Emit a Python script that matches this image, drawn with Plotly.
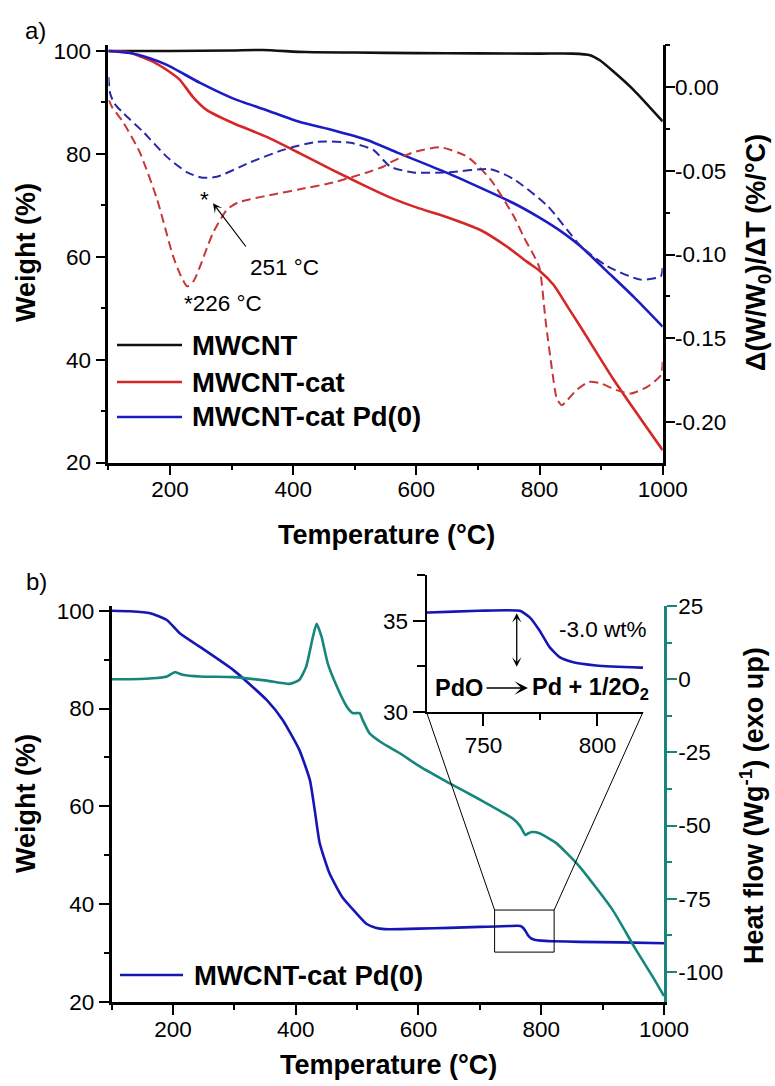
import plotly.graph_objects as go

W, H = 775, 1086
FONT = "Liberation Sans, Arial, sans-serif"

# ---------------- panel a: TGA (left axis) and DTG (right axis) ----------------
t_mwcnt = [100, 200, 300, 350, 420, 500, 600, 700, 800, 854, 882, 898, 920, 953, 1000]
w_mwcnt = [100, 100, 100.1, 100.2, 99.8, 99.7, 99.6, 99.55, 99.5, 99.5, 99.2, 98.2, 96.0, 92.4, 86.3]

t_cat = [100, 130, 151, 173, 195, 216, 237, 260, 302, 357, 411, 465, 520, 560, 600, 650,
         704, 748, 780, 800, 823, 845, 867, 921, 1000]
w_cat = [100, 99.8, 99.0, 97.9, 96.3, 94.4, 91.1, 88.5, 86.0, 83.3, 80.1, 76.8, 73.6,
         71.4, 69.6, 67.7, 65.2, 61.9, 59.0, 57.3, 54.5, 50.4, 46.3, 36.0, 22.4]

t_pd = [100, 135, 167, 195, 249, 302, 357, 411, 465, 520, 570, 650, 758, 800, 839, 867,
        910, 953, 1000]
w_pd = [100, 99.6, 98.6, 97.3, 93.8, 90.8, 88.5, 86.2, 84.6, 82.7, 80.2, 76.3, 70.4,
        67.6, 64.6, 62.0, 57.1, 52.2, 46.4]

td_cat = [101, 106, 124, 151, 179, 205, 218, 228, 238, 249, 260, 270, 282, 293, 310, 330,
          370, 411, 465, 520, 546, 558, 595, 639, 683, 720, 758, 775, 790, 800, 810, 820,
          828, 836, 845, 860, 880, 900, 925, 948, 975, 997, 1000]
d_cat = [-0.008, -0.012, -0.021, -0.039, -0.067, -0.101, -0.113, -0.119, -0.116, -0.107,
         -0.096, -0.087, -0.079, -0.073, -0.069, -0.067, -0.064, -0.061, -0.057, -0.051,
         -0.0476, -0.045, -0.039, -0.036, -0.0417, -0.055, -0.077, -0.090, -0.100, -0.108,
         -0.140, -0.168, -0.186, -0.190, -0.187, -0.181, -0.176, -0.177, -0.181, -0.183,
         -0.179, -0.172, -0.164]

td_pd = [100, 103, 110, 124, 157, 195, 228, 251, 276, 330, 384, 439, 493, 530, 558, 595,
         650, 720, 758, 813, 867, 910, 964, 997, 1000]
d_pd = [0.006, -0.004, -0.010, -0.0155, -0.027, -0.0417, -0.051, -0.054, -0.0536, -0.045,
        -0.0375, -0.0327, -0.0333, -0.0375, -0.0476, -0.051, -0.051, -0.049, -0.055,
        -0.071, -0.095, -0.107, -0.115, -0.113, -0.106]

# ---------------- panel b: TGA (left axis) and DSC heat flow (right axis) ----------------
tb = [100, 130, 163, 190, 211, 244, 298, 353, 379, 406, 423, 431, 439, 455, 476, 499, 515,
      530, 545, 570, 600, 650, 700, 726, 748, 766, 770.3, 774.6, 779, 783.4, 789, 799.4,
      819, 862, 930, 1000]
wb = [100, 99.9, 99.5, 98.1, 95.4, 92.6, 87.9, 81.7, 77.6, 71.5, 65.4, 59.2, 52.5, 46.3,
      41.4, 38.1, 36.0, 35.2, 34.9, 34.9, 35.0, 35.15, 35.35, 35.45, 35.54, 35.54, 35.18,
      34.46, 33.55, 33.0, 32.74, 32.55, 32.43, 32.3, 32.2, 32.0]

th = [100, 132, 174, 190, 203, 216, 244, 298, 353, 390, 406, 417, 428, 434, 442, 452, 467,
      483, 493, 504, 509, 520, 541, 569, 602, 650, 699, 753, 765, 769, 774, 779, 785, 797,
      824, 862, 916, 954, 981, 1000]
hf = [0, 0, 0.4, 0.9, 2.4, 1.5, 0.9, 0.7, -0.5, -1.6, -0.2, 4.3, 14.5, 18.9, 14.5, 5.5,
      -2.5, -9.3, -11.6, -11.6, -13.9, -18.4, -21.8, -25.2, -29.8, -35.5, -41.0, -47.5,
      -50.0, -51.4, -53.2, -52.6, -52.2, -52.6, -55.9, -63.9, -78.7, -92.3, -101.4, -108.2]

names_a = ["MWCNT", "MWCNT-cat", "MWCNT-cat Pd(0)"]
name_b = "MWCNT-cat Pd(0)"

BLACK = "#111111"
RED = "rgb(214,38,38)"
RED_D = "rgb(200,55,55)"
BLUE = "rgb(28,28,196)"
BLUE_D = "rgb(40,40,170)"
BLUE_B = "rgb(22,22,180)"
TEAL = "rgb(22,134,124)"

fig = go.Figure()

# panel a
for t, w, c in [(t_mwcnt, w_mwcnt, BLACK), (t_cat, w_cat, RED), (t_pd, w_pd, BLUE)]:
    fig.add_trace(go.Scatter(x=t, y=w, mode="lines", line=dict(color=c, width=2.6, shape="spline", smoothing=0.6),
                             xaxis="x", yaxis="y", showlegend=False))
for t, d, c in [(td_cat, d_cat, RED_D), (td_pd, d_pd, BLUE_D)]:
    fig.add_trace(go.Scatter(x=t, y=d, mode="lines",
                             line=dict(color=c, width=2, dash="9px,5px", shape="spline", smoothing=0.6),
                             xaxis="x", yaxis="y2", showlegend=False))

# panel b
fig.add_trace(go.Scatter(x=th, y=hf, mode="lines", line=dict(color=TEAL, width=2.6, shape="spline", smoothing=0.5),
                         xaxis="x2", yaxis="y4", showlegend=False))
fig.add_trace(go.Scatter(x=tb, y=wb, mode="lines", line=dict(color=BLUE_B, width=2.6, shape="spline", smoothing=0.5),
                         xaxis="x2", yaxis="y3", showlegend=False))
# inset: zoom on the PdO decomposition step
fig.add_trace(go.Scatter(x=tb, y=wb, mode="lines", line=dict(color=BLUE_B, width=2.6, shape="spline", smoothing=0.5),
                         xaxis="x3", yaxis="y5", showlegend=False))

TICKF = dict(family=FONT, size=22.5, color="black")


def ax_common(**kw):
    d = dict(showline=True, linewidth=2.5, linecolor="black", ticks="outside", ticklen=10,
             tickwidth=2, tickcolor="black", tickfont=TICKF, zeroline=False, showgrid=False,
             mirror=False, automargin=False)
    d.update(kw)
    return d


def minor(vals, color="black", ln=5):
    return dict(tickmode="array", tickvals=vals, ticks="outside", ticklen=ln, tickwidth=2,
                tickcolor=color, showgrid=False)


xa_dom = [108.4 / W, 662.7 / W]
xb_dom = [111.6 / W, 664.0 / W]
ya_dom = [1 - 462.5 / H, 1 - 45 / H]
yb_dom = [1 - 1002 / H, 1 - 606 / H]
xi_dom = [426.5 / W, 643 / W]
yi_dom = [1 - 712 / H, 1 - 575 / H]

xa_rng = [100, 1000]
xb_rng = [100, 1000]
ya_rng = [20, 101.17]
ya2_rng = [-0.2242, 0.0251]
yb_rng = [20, 100.96]
yb2_rng = [-110.25, 25]
xi_rng = [725, 820]
yi_rng = [30, 37.5]

temp_ticks = [200, 400, 600, 800, 1000]
temp_minor = [100, 300, 500, 700, 900]
wt_ticks = [20, 40, 60, 80, 100]
wt_minor = [30, 50, 70, 90]
dtg_ticks = [0.0, -0.05, -0.10, -0.15, -0.20]
dtg_text = ["0.00", "-0.05", "-0.10", "-0.15", "-0.20"]
dtg_minor = [0.025, -0.025, -0.075, -0.125, -0.175]
hf_ticks = [25, 0, -25, -50, -75, -100]
hf_text = ["25", "0", "-25", "-50", "-75", "-100"]
hf_minor = [12.5, -12.5, -37.5, -62.5, -87.5]

fig.update_layout(
    template="none",
    width=W, height=H, margin=dict(l=0, r=0, t=0, b=0, pad=0, autoexpand=False),
    paper_bgcolor="white", plot_bgcolor="rgba(0,0,0,0)", showlegend=False,
    font=dict(family=FONT, color="black"),
    xaxis=ax_common(domain=xa_dom, range=xa_rng, anchor="y", tickmode="array", tickvals=temp_ticks,
                    minor=minor(temp_minor), ticklabelstandoff=-5),
    yaxis=ax_common(domain=ya_dom, range=ya_rng, anchor="x", tickmode="array", tickvals=wt_ticks,
                    minor=minor(wt_minor)),
    yaxis2=ax_common(overlaying="y", side="right", anchor="x", range=ya2_rng, tickmode="array",
                     tickvals=dtg_ticks, ticktext=dtg_text, minor=minor(dtg_minor),
                     ticklabelstandoff=-5),
    xaxis2=ax_common(domain=xb_dom, range=xb_rng, anchor="y3", tickmode="array", tickvals=temp_ticks,
                     minor=minor(temp_minor), ticklabelstandoff=-5),
    yaxis3=ax_common(domain=yb_dom, range=yb_rng, anchor="x2", tickmode="array", tickvals=wt_ticks,
                     minor=minor(wt_minor)),
    yaxis4=ax_common(overlaying="y3", side="right", anchor="x2", range=yb2_rng, tickmode="array",
                     tickvals=hf_ticks, ticktext=hf_text, linecolor=TEAL, tickcolor=TEAL,
                     minor=minor(hf_minor, TEAL), ticklabelstandoff=-3),
    xaxis3=ax_common(domain=xi_dom, range=xi_rng, anchor="y5", tickmode="array", tickvals=[750, 800],
                     linewidth=2, ticklen=12, minor=minor([775], ln=6)),
    yaxis5=ax_common(domain=yi_dom, range=yi_rng, anchor="x3", tickmode="array", tickvals=[30, 35],
                     linewidth=2, ticklen=12, minor=minor([32.5, 37.5], ln=8)),
)


def to_paper(v, rng, dom):
    return dom[0] + (v - rng[0]) / (rng[1] - rng[0]) * (dom[1] - dom[0])


shapes = []
annots = []

# zoom window on panel b and the lines leading to the inset
zx0, zx1, zy0, zy1 = 724, 821, 30.2, 38.8
shapes.append(dict(type="rect", xref="x2", yref="y3", x0=zx0, x1=zx1, y0=zy0, y1=zy1,
                   line=dict(color="black", width=1)))
for zx, ix in [(zx0, xi_rng[0]), (zx1, xi_rng[1])]:
    shapes.append(dict(type="line", xref="paper", yref="paper",
                       x0=to_paper(zx, xb_rng, xb_dom), y0=to_paper(zy1, yb_rng, yb_dom),
                       x1=to_paper(ix, xi_rng, xi_dom), y1=yi_dom[0],
                       line=dict(color="black", width=1)))


def px_x(p):
    return p / W


def px_y(p):
    return 1 - p / H


# hand-drawn legends
LEGF = dict(family=FONT, size=27.5, color="black")
for name, c, yy in zip(names_a, [BLACK, RED, BLUE], [345, 382, 417]):
    shapes.append(dict(type="line", xref="paper", yref="paper", x0=px_x(117), x1=px_x(182),
                       y0=px_y(yy), y1=px_y(yy), line=dict(color=c, width=2.6)))
    annots.append(dict(xref="paper", yref="paper", x=px_x(190), y=px_y(yy), xanchor="left",
                       yanchor="middle", text=f"<b>{name}</b>", showarrow=False, font=LEGF))
shapes.append(dict(type="line", xref="paper", yref="paper", x0=px_x(120), x1=px_x(183),
                   y0=px_y(975), y1=px_y(975), line=dict(color=BLUE_B, width=2.6)))
annots.append(dict(xref="paper", yref="paper", x=px_x(192), y=px_y(975), xanchor="left",
                   yanchor="middle", text=f"<b>{name_b}</b>", showarrow=False, font=LEGF))

# axis titles and panel letters
TITF = dict(family=FONT, size=27, color="black")
C = dict(xref="paper", yref="paper", xanchor="center", yanchor="middle", showarrow=False)
annots += [
    dict(C, x=px_x(386), y=px_y(535), text="<b>Temperature (°C)</b>", font=TITF),
    dict(C, x=px_x(388), y=px_y(1065), text="<b>Temperature (°C)</b>", font=TITF),
    dict(C, x=px_x(26), y=px_y(253), text="<b>Weight (%)</b>", textangle=-90, font=TITF),
    dict(C, x=px_x(26), y=px_y(804), text="<b>Weight (%)</b>", textangle=-90, font=TITF),
    dict(C, x=px_x(758), y=px_y(253), text="<b>Δ(W/W<sub>0</sub>)/ΔT (%/°C)</b>",
         textangle=-90, font=TITF),
    dict(C, x=px_x(752), y=px_y(806), text="<b>Heat flow (Wg<sup>-1</sup>) (exo up)</b>",
         textangle=-90, font=TITF),
    dict(C, x=px_x(35), y=px_y(31), text="a)", font=dict(family=FONT, size=24, color="black")),
    dict(C, x=px_x(36), y=px_y(581), text="b)", font=dict(family=FONT, size=24, color="black")),
]

# DTG peak labels in panel a
LBLF = dict(family=FONT, size=22.5, color="black")
annots += [
    dict(xref="x", yref="y", x=256.8, y=71.2, text="*", showarrow=False, font=LBLF),
    dict(xref="x", yref="y", x=269.8, y=70.4, ax=325, ay=61.7, axref="x", ayref="y", text="",
         showarrow=True, arrowhead=3, arrowsize=1.3, arrowwidth=1.2, arrowcolor="black", standoff=0),
    dict(xref="x", yref="y", x=326.7, y=58.0, xanchor="left", yanchor="middle", text="251 °C",
         showarrow=False, font=LBLF),
    dict(xref="x", yref="y", x=219.5, y=51.0, xanchor="left", yanchor="middle", text="*226 °C",
         showarrow=False, font=LBLF),
]

# inset labels
INB = dict(family=FONT, size=23.5, color="black")
annots += [
    dict(xref="x3", yref="y5", x=764.6, y=32.48, ax=764.6, ay=35.49, axref="x3", ayref="y5", text="",
         showarrow=True, arrowhead=3, startarrowhead=3, arrowside="end+start", arrowsize=1.2,
         startarrowsize=1.2, arrowwidth=1.3, arrowcolor="black", standoff=0, startstandoff=0),
    dict(xref="x3", yref="y5", x=782.3, y=34.49, xanchor="left", yanchor="middle", text="-3.0 wt%",
         showarrow=False, font=LBLF),
    dict(xref="x3", yref="y5", x=727.9, y=31.31, xanchor="left", yanchor="middle", text="<b>PdO</b>",
         showarrow=False, font=INB),
    dict(xref="x3", yref="y5", x=769.5, y=31.31, ax=750.7, ay=31.31, axref="x3", ayref="y5", text="",
         showarrow=True, arrowhead=3, arrowsize=1.6, arrowwidth=1.4, arrowcolor="black", standoff=0),
    dict(xref="x3", yref="y5", x=770.4, y=31.31, xanchor="left", yanchor="middle",
         text="<b>Pd + 1/2O<sub>2</sub></b>", showarrow=False, font=INB),
]

fig.update_layout(shapes=shapes, annotations=annots)
fig.write_html("out.html")
